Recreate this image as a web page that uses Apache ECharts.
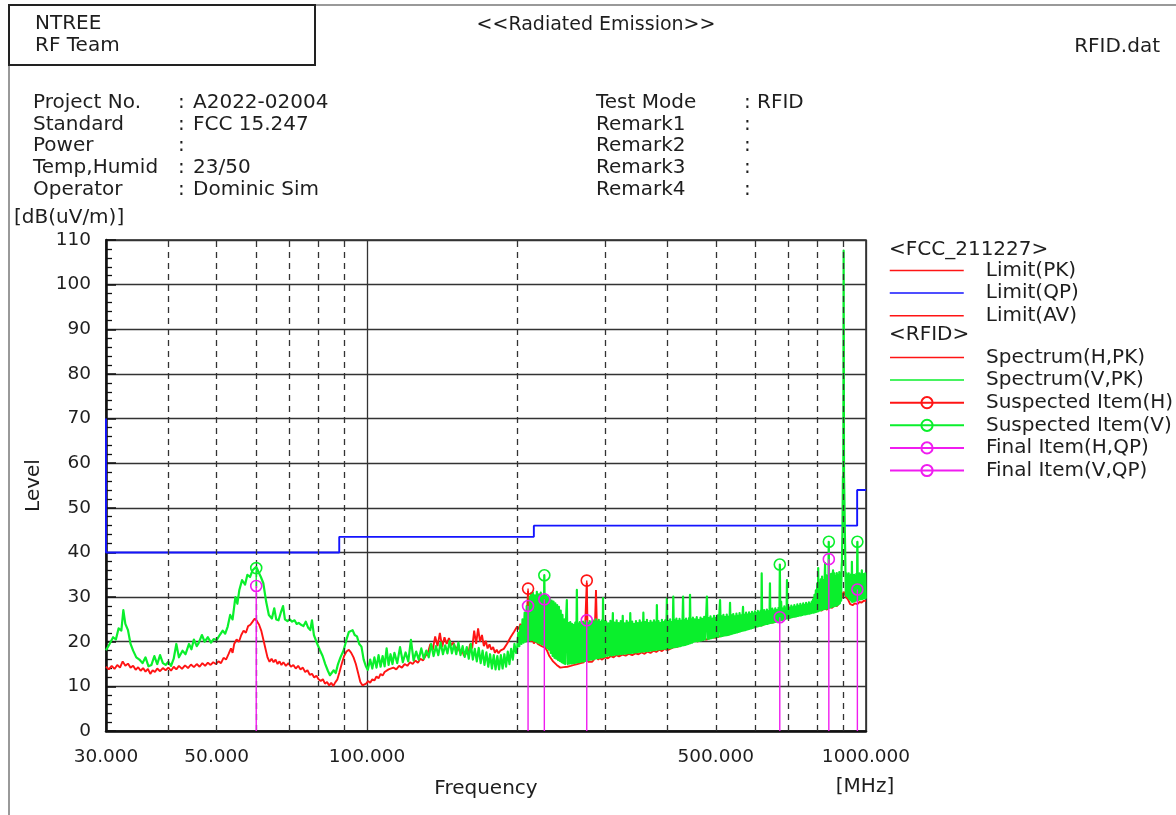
<!DOCTYPE html>
<html>
<head>
<meta charset="utf-8">
<script src="https://cdn.jsdelivr.net/npm/echarts@6/dist/echarts.min.js"></script>
<style>
html, body { margin: 0; padding: 0; background: #fff; }
#chart { width: 1176px; height: 815px; }
</style>
</head>
<body>
<div id="chart"></div>
<script>
const FONT = 'DejaVu Sans';
const INK = '#1e1e1e';

// Report header fields
const headerLeft = [
  ['Project No.', 'A2022-02004'],
  ['Standard', 'FCC 15.247'],
  ['Power', ''],
  ['Temp,Humid', '23/50'],
  ['Operator', 'Dominic Sim']
];
const headerRight = [
  ['Test Mode', 'RFID'],
  ['Remark1', ''],
  ['Remark2', ''],
  ['Remark3', ''],
  ['Remark4', '']
];

// Axis setup (frequency in MHz, level in dB(uV/m))
const freqLabelTicks = [30, 50, 100, 500, 1000];
const freqDashedGrid = [40, 50, 60, 70, 80, 90, 200, 300, 400, 500, 600, 700, 800, 900];

// FCC quasi-peak limit, stepped
const limitQP = [[30, 70], [30, 40], [88, 40], [88, 43.5], [216, 43.5], [216, 46], [960, 46], [960, 54], [1000, 54]];

// Horizontal polarisation, peak sweep
const spectrumH = [
  [30,14.4],[30.4,13.8],[30.8,14.6],[31.2,13.9],[31.6,14.8],[32,14.2],[32.4,15.6],[32.8,14.6],[33.2,15.1],[33.6,14.2],
  [34,14.6],[34.4,13.7],[34.8,14.3],[35.2,13.5],[35.6,14.1],[36,13.3],[36.4,13.9],[36.8,12.8],[37.2,13.6],[37.6,13.2],
  [38,14],[38.5,13.4],[39,14.1],[39.5,13.6],[40,14.2],[40.5,13.5],[41,14.4],[41.5,13.8],[42,14.6],[42.6,13.9],
  [43.2,14.7],[43.8,14.1],[44.4,14.9],[45,14.3],[45.6,15],[46.2,14.4],[46.8,15.2],[47.4,14.6],[48,15.3],[48.6,14.8],
  [49.2,15.4],[49.8,15],[50.4,15.6],[51,15.2],[51.6,16.4],[52.2,16],[52.8,17.2],[53.4,18.5],[53.8,17.5],[54.2,19.5],
  [54.8,20.5],[55.4,20],[56,21.5],[56.6,22.5],[57.2,22],[57.8,23.5],[58.4,23.8],[59,24.5],[59.6,25.2],[60.2,24.6],
  [60.8,23.8],[61.4,22.5],[62,20.5],[62.6,18.5],[63.2,16.5],[63.8,15.5],[64.4,16.2],[65,15.4],[65.6,16],[66.2,15],
  [66.8,15.6],[67.4,14.8],[68,15.4],[68.8,14.6],[69.6,15.2],[70.4,14.4],[71.2,14.8],[72,14],[72.8,14.6],[73.6,13.8],
  [74.4,14.2],[75.2,13.2],[76,13.6],[76.8,12.6],[77.6,12.8],[78.4,12],[79.2,12.4],[80,11.6],[80.8,11.2],[81.6,11.6],
  [82.4,10.6],[83.2,11],[84,10.2],[84.8,10.8],[85.6,10.1],[86.4,10.9],[87.2,11.5],[88,13],[89,15],[90,16.8],
  [91,17.8],[92,18.2],[93,17.5],[94,16.5],[95,15],[96,13],[97,11],[98,10.2],[98.8,9.9],[99.6,10.6],
  [100.5,11.2],[101.5,10.8],[102.5,11.6],[103.5,11.3],[104.5,12.2],[105.5,11.8],[106.5,12.8],[107.5,12.4],[108.5,13.2],[109.5,12.8],
  [110.5,13.8],[111.5,13.4],[113,14.2],[114.5,13.8],[116,14.6],[117.5,14.2],[119,15],[120.5,14.6],[122,15.4],[123.5,15],
  [125,15.8],[126.5,15.3],[128,16.2],[129.5,15.8],[131,16.8],[132.5,17.6],[134,19.5],[135.5,18.2],[137,21.2],[138.5,19],
  [140,22],[141.5,18.8],[143,21],[144.5,19.5],[146,20.8],[147.5,19.2],[149,19.8],[150.5,18.5],[152,18.8],[153.5,17.8],
  [155,18.2],[156.5,16.8],[158,17.5],[159.5,17.2],[161,19.5],[162.5,18.5],[164,22.5],[165.5,19.5],[167,23],[168.5,20],
  [170,21.5],[171.5,19],[173,20.2],[174.5,18.5],[176,19.4],[177.5,18.2],[179,18.8],[180.5,17.5],[182,18.2],[183.5,17.4],
  [185,18],[186.5,17.6],[188,18.4],[189.5,18],[191,19.6],[192.5,19.2],[194,21],[195.5,20.6],[197,22.2],[198.5,21.8],
  [200,23.4],[201.5,22.8],[203,24],[204.5,23.2],[206,24.5],[207.5,23.8],[209,25.5],[210.3,31.4],[211.5,21],[213,20],
  [214.5,20.6],[216,19.6],[218,20.2],[220,19.5],[222,19.8],[224,19],[226,19.3],[228,18.6],[230,17.8],[232,16.8],
  [234,16.2],[236,15.6],[238,15.2],[240,14.8],[242,14.5],[244,14.2],[246,14],[248,14.3],[250,14.1],[252,14.4],
  [254,14.2],[256,14.6],[258,14.4],[260,14.8],[262,14.6],[264,15],[266,14.8],[268,15.2],[270,15],[272,15.4],
  [274,15.2],[275.7,33.2],[277.5,15.5],[280,15.8],[282.5,15.5],[285,16],[287.7,31.6],[290,16],[293,16.3],[296,16],
  [300,16.5],[304,16.3],[308,16.8],[312,16.5],[316,17],[320,16.7],[325,17.1],[330,16.9],[335,17.3],[340,17],
  [345,17.4],[350,17.2],[355,17.6],[360,17.3],[365,17.8],[370,17.5],[375,18],[380,17.7],[385,18.2],[390,17.9],
  [395,18.4],[400,18.1],[410,18.7],[420,18.9],[430,19.4],[440,19.6],[450,20.2],[460,20.1],[470,20.6],[480,20.5],
  [490,21],[500,20.9],[515,21.4],[530,21.6],[545,22.2],[560,22.4],[575,22.9],[590,23.1],[605,23.6],[620,23.7],
  [635,24.2],[650,24.3],[665,24.8],[680,24.9],[695,25.4],[710,25.5],[725,25.9],[740,26],[755,26.4],[770,26.5],
  [785,26.8],[790,29.5],[795,27],[805,27.2],[815,27],[825,27.5],[835,27.2],[845,27.8],[855,27.6],[865,28.2],
  [875,28],[885,28.8],[892,29.6],[897,30.5],[902,31.2],[907,30.8],[912,30],[920,29.5],[930,28.4],[940,28.2],
  [950,28.6],[960,28.4],[970,28.9],[980,28.8],[990,29.2],[1000,29.1]
];

// Vertical polarisation, peak sweep
const spectrumV = [
  [30,18.1],[30.5,19.5],[31,21],[31.4,20.5],[31.8,23],[32.2,22.5],[32.5,27.1],[32.8,24],[33.2,22.6],[33.6,19.5],
  [34,18],[34.5,16.5],[35,16],[35.5,15.2],[36,16.5],[36.5,14.5],[37,14.8],[37.5,16.8],[38,15],[38.5,17],
  [39,15.2],[39.5,14.8],[40,15.5],[40.5,14.6],[41,16.2],[41.5,19.5],[42,16.5],[42.7,18],[43.3,17.2],[44,19.5],
  [44.5,18.3],[45,20.5],[45.6,19],[46,19.7],[46.7,21.5],[47.3,20],[48,21],[48.7,19.8],[49.3,20.6],[50,20.4],
  [50.7,21.5],[51.4,22.5],[52,21.8],[52.6,23.4],[53.2,26],[53.8,25],[54.5,30],[55,28.5],[55.5,31.6],[56.2,33.8],
  [57,32.8],[57.6,35],[58.3,34.5],[59,36],[60,36.8],[60.7,35.5],[61.3,34.5],[62,33.1],[62.8,29],[63.6,26],
  [64.5,25.2],[65.2,27.5],[65.8,25],[66.5,24.8],[67.2,26.5],[67.9,28],[68.5,25],[69.3,24.6],[70,25],[70.8,24.5],
  [71.6,24.8],[72.3,24],[73,24.2],[73.8,23.8],[74.6,23.5],[75.4,24.5],[76.2,23.2],[77,22.6],[77.6,24.8],[78.3,21.5],
  [79.2,20],[80.5,18.1],[81.5,16.8],[82.5,15],[83.5,13.5],[84.3,12.5],[85,12.2],[85.8,13.6],[86.6,13],[87.5,15],
  [88.5,16.5],[89.8,18.1],[91,20.5],[92,22.2],[92.8,21.8],[93.6,22.6],[94.5,21.5],[95.5,21.2],[96.5,19.5],[97.5,18.9],
  [98.5,16],[99.5,14.5],[100.4,13.7],[101.5,16],[102.5,14],[103.5,16.5],[104.5,14.2],[105.5,17],[106.5,14.4],[107.5,16.8],
  [108.5,14.5],[109.5,18.5],[110.5,14.8],[111.5,17.2],[112.5,15],[113.5,17.5],[115,15.2],[116.5,18.8],[118,15.4],[119.5,17.6],
  [121,15.6],[122.5,20.4],[124,15.8],[125.5,17.8],[127,16],[128.5,18.5],[130,16.2],[131.5,18],[133,16.5],[134.5,19.5],
  [136,16.8],[137.5,19],[139,17],[140.5,19.8],[142,17.2],[143.5,19.2],[145,17.4],[146.5,20.2],[148,17.4],[149.5,19.4],
  [151,17.2],[152.5,19.8],[154,17],[155.5,19],[157,16.6],[158.5,18.8],[160,16.2],[161.5,19.5],[163,16],[164.5,18.4],
  [166,15.6],[167.5,18.6],[169,15.2],[170.5,18],[172,14.8],[173.5,17.6],[175,14.4],[176.5,17.2],[178,14],[179.5,17],
  [181,13.8],[182.5,16.8],[184,13.8],[185.5,17],[187,14],[188.5,17.2],[190,14.4],[191.5,17.8],[193,15],[194.5,18.4],
  [196,16],[197.5,19.5],[199,17.5],
  [200,18.5],[201,22],[202,19],[203,23.5],[204,19.5],[205,25],[206,19.8],[207,26.5],[208,20],[209,28],
  [210,20.2],[211,30],[212,20.3],[213,30.8],[214,20.4],[215,31],[216,20.2],[217,30.4],[218,20],[219,31.2],
  [220,19.8],[221,30.6],[222,19.6],[223,31],[224,19.4],[225,30.2],[226,19.2],[226.7,34.9],[227.5,19],[228.5,30.4],
  [229.5,18.6],[230.5,30],[231.5,18.2],[232.5,29.6],[233.5,17.5],[234.5,29.2],[235.5,16.8],[236.5,29],[237.5,16.4],[238.5,28.6],
  [239.5,16.2],[240.5,28.2],[241.5,15.9],[242.5,27.8],[243.5,15.7],[244.5,27],[245.5,15.4],[246.5,26],[247.5,15.2],[248.5,25],
  [249.5,15],[250.5,24.6],[251.5,29.3],[252.5,15],[253.5,24.2],[254.5,15.1],[255.5,24.4],[256.5,15.1],[257.5,24],[258.5,15.2],
  [259.5,23.8],[260.5,15.2],[261.5,24.3],[262.5,15.3],[263.4,31.6],[264.3,15.4],[265.2,24],[266.1,15.4],[267,24.4],[268,15.5],
  [269,23.9],[270,15.6],[271,24.5],[272,15.6],[273,24.1],[274,15.7],[275,24.6],[276.5,15.8],[277.5,24.2],[278.5,15.9],
  [279.5,24.6],[280.5,16],[281.5,24.3],[282.5,16],[283.5,24.8],[284.5,16.1],[285.5,24.4],[286.5,16.2],[287.5,25],[288.5,16.3],
  [289.5,24.5],[290.5,16.3],[291.5,24.9],[292.5,16.4],[293.5,24.4],[294.5,16.5],[295.5,24.8],[296.5,16.5],[297.2,29.8],[298,16.6],
  [299,24.6],[300,16.7],
  [301.5,24.5],[303,16.8],[304.5,24.1],[306,16.9],[307.5,24.7],[309,16.9],[311,26.4],[312,17],[313.5,24.3],[315,17.1],
  [316.5,24.8],[318,17.1],[319.5,24.2],[321,17.2],[322.5,24.6],[324,17.2],[325.5,25.8],[327,17.3],[328.5,24.1],[330,17.3],
  [331.5,24.7],[333,17.4],[334.5,24.3],[336,17.4],[337,26.4],[338.5,17.5],[340,24.5],[341.5,17.5],[343,24],[344.5,17.6],
  [346,24.6],[347.5,17.6],[349,24.2],[350.5,17.7],[352,24.8],[353.5,17.7],[355,24.3],[356.5,17.8],[358,26.5],[359.5,17.8],
  [361,24.4],[362.5,17.9],[364,24.9],[365.5,17.9],[367,24.2],[368.5,18],[370,24.7],[371.5,18],[373,24.3],[374.5,18.1],
  [376,24.8],[377.5,18.1],[379,24.4],[380,18.2],[381,28.2],[382.5,18.2],[384,24.6],[385.5,18.3],[387,24.2],[388.5,18.3],
  [390,24.9],[391.5,18.4],[393,24.4],[394.5,18.4],[396,24.8],[397.5,18.5],[399,29.7],[400.5,18.5],[402,24.6],[403.5,18.6],
  [405,25],[406.5,18.6],[408,24.4],[409.5,18.7],[411,30.1],[412.5,18.8],[414,24.8],[415.5,18.8],[417,25.2],[418.5,18.9],
  [420,24.6],[421.5,19],[423,25.1],[424.5,19],[426,24.7],[427.5,19.1],[429,25.3],[430,30.1],[431.5,19.2],[433,24.8],
  [434.5,19.3],[436,25.2],[437.5,19.4],[439,24.7],[440.5,19.5],[442,25.3],[443,19.6],[444,30.5],[445.5,19.7],[447,25],
  [448.5,19.8],[450,25.4],[452,20],[454,25],[456,20.1],[458,25.5],[460,20.1],[462,24.9],[464,20.2],[466,25.4],
  [468,20.3],[470,25.1],[472,20.4],[474,25.6],[476,20.5],[478,25],[480,30.1],[482,20.6],[484,25.3],[486,20.7],
  [488,25.7],[490,20.8],[492,25.2],[494,20.9],[496,25.8],[498,21],[500,25.3],[502,21],[504,25.9],[506,21.1],
  [508,25.4],[510,29.3],[512,21.2],[514,25.7],[516,21.3],[518,26],[520,21.4],[522,25.5],[524,21.4],[526,26.1],
  [528,21.5],[530,25.6],[532,21.6],[534,28.7],[536,21.7],[538,25.9],[540,21.8],[542,26.2],[544,21.9],[546,25.7],
  [548,22],[550,26.3],[552,22.1],[554,25.8],[556,22.2],[558,26.4],[560,22.3],[562,25.9],[564,22.4],[566,26.3],
  [567,27.8],[569,22.5],[571,26],[573,22.6],[575,26.5],[577,22.7],[579,26.1],[581,22.8],[583,26.6],[585,22.9],
  [587,26.2],[589,23],[591,26.7],[593,23.1],[595,26.3],[597,23.2],[599,26.8],[601,23.3],[603,26.4],[605,23.4],
  [607,26.9],[609,23.5],[611,26.5],[613,23.6],[615,27],[617,23.6],[618,35.3],[619.5,23.7],[621,26.6],[623,23.8],
  [625,27.1],[627,23.9],[629,26.7],[631,24],[633,27.2],[635,24],[637,26.8],[639,24.1],[641,27.3],[642,33.1],
  [643.5,24.2],[645,26.9],[647,24.3],[649,27.4],[651,24.3],[653,27],[655.5,24.4],[658,27.5],[660.5,24.5],[663,27.1],
  [665.5,24.6],[668,27.6],[670.5,24.7],[672,37.3],[673.5,24.8],[676,29],[678.5,24.9],[681,27.4],[683.5,25],[686,27.9],
  [688.5,25.1],[691,27.5],[693,25.2],[694.5,33.8],[696,25.2],[698.5,28],[701,25.3],[703.5,27.6],[706,25.4],[708.5,28.1],
  [711,25.5],[713.5,27.7],[716,25.6],[718.5,28.2],[721,25.6],[723.5,27.8],[726,25.7],[728.5,28.4],[731,25.8],[733.5,28],
  [736,25.9],[738.5,28.5],[741,25.9],[743.5,28.1],[746,26],[748.5,28.6],[751,26.1],[753.5,28.2],[756,26.1],[758.5,28.7],
  [761,26.2],[763.5,28.3],[766,26.3],[768.5,28.8],[771,26.3],[773.5,28.5],[776,26.4],[778.5,29],[781,26.5],[783.5,29.5],
  [786,26.5],[788.5,30.5],[791,26.6],[793.5,31.5],[796,26.7],[798.5,33],[801,26.8],[802,36.5],[804,26.9],[806.5,33.2],
  [809,27],[811.5,34],[814,27.1],[816.5,34.6],[819,27.2],[821.5,33.8],[824,27.3],[826.5,34.4],[828,37.6],[830,27.4],
  [832.5,34.9],[835,27.4],[837.5,34.2],[840,27.5],[842,42.4],[844,27.6],[846.5,34.8],[849,27.7],[851.5,35.2],[854,27.8],
  [856.5,34.6],[859,36],[861.5,27.9],[864,35.3],[866.5,28],[869,34.7],[871.5,28.1],[874,35.4],[876.5,28.2],[879,34.9],
  [881.5,28.4],[884,35.6],[886.5,28.6],[889,35.2],[891.5,29.2],[893.5,36.5],[895,38],[897,45],[899,57],[900.5,52],
  [902,107.6],[903.5,57.3],[905,52.5],[907,45],[909,38],[911,30.4],[913.5,35.4],[916,30.2],[918.5,34.8],[921,29.9],
  [923.5,35.3],[926,29.6],[928.5,34.7],[931,29.3],[933.5,35.1],[936,29],[937,37.9],[939,28.9],[941.5,34.5],[944,29],
  [946.5,35],[949,29.1],[951.5,34.6],[954,29.2],[956.5,35.2],[959,29.3],[961,42.4],[963,29.3],[965.5,34.8],[968,29.4],
  [970.5,35.3],[973,29.5],[975.5,34.9],[978,29.5],[981,36],[983.5,29.6],[986,35.2],[988.5,29.7],[991,34.8],[993.5,29.7],
  [996,35.3],[998.5,29.8],[1000,30]
];

// Suspected peaks and final quasi-peak readings (same items, same order)
const suspectedHFreq = [210.3, 275.7];
const suspectedHLevel = [31.9, 33.7];
const suspectedVFreq = [60.0, 226.7, 671.8, 842.4, 961.0];
const suspectedVLevel = [36.5, 34.9, 37.3, 42.4, 42.4];
const finalHFreq = [210.3, 275.7];
const finalHLevel = [28.0, 24.8];
const finalVFreq = [60.0, 226.7, 671.8, 842.4, 961.0];
const finalVLevel = [32.5, 29.5, 25.5, 38.5, 31.7];

const RED = '#ff1414';
const GREEN = '#0aef2c';
const BLUE = '#1414ff';
const MAGENTA = '#f01cf0';

// One stem per item: a line from a base level up to the reading, with a hollow ring on top
function stems(name, freqs, levels, bases, color, z) {
  return freqs.map((f, i) => ({
    type: 'line',
    name: name,
    z: z,
    symbol: 'circle',
    symbolSize: 11,
    lineStyle: { color: color, width: 1.4 },
    itemStyle: { color: 'rgba(255,255,255,0)', borderColor: color, borderWidth: 1.6 },
    emphasis: { disabled: true },
    data: [{ value: [f, bases[i]], symbol: 'none' }, [f, levels[i]]]
  }));
}

const textBase = { fontFamily: FONT, fontSize: 20, fill: INK };
function txt(x, y, text, extra) {
  return {
    type: 'text', x: x, y: y, silent: true,
    style: Object.assign({ text: text, verticalAlign: 'middle', textVerticalAlign: 'middle' }, textBase, extra || {})
  };
}

const graphics = [
  { type: 'line', silent: true, shape: { x1: 9, y1: 5, x2: 9, y2: 815 }, style: { stroke: '#777', lineWidth: 1.5 } },
  { type: 'line', silent: true, shape: { x1: 9, y1: 5, x2: 1176, y2: 5 }, style: { stroke: '#777', lineWidth: 1.5 } },
  { type: 'rect', silent: true, shape: { x: 9, y: 5, width: 306, height: 60 }, style: { fill: 'none', stroke: '#222', lineWidth: 2 } },
  txt(35, 24, 'NTREE'),
  txt(35, 46, 'RF Team'),
  txt(596, 25, '<<Radiated Emission>>', { fontSize: 19, align: 'center', textAlign: 'center' }),
  txt(1160, 47, 'RFID.dat', { align: 'right', textAlign: 'right' }),
  txt(14, 218, '[dB(uV/m)]'),
  txt(865, 787, '[MHz]', { align: 'center', textAlign: 'center' }),
  txt(889, 250, '<FCC_211227>'),
  txt(889, 335, '<RFID>')
];
const rowY = [103, 125, 146, 168, 190];
headerLeft.forEach((r, i) => {
  graphics.push(txt(33, rowY[i], r[0]));
  graphics.push(txt(178, rowY[i], ':'));
  if (r[1]) graphics.push(txt(193, rowY[i], r[1]));
});
headerRight.forEach((r, i) => {
  graphics.push(txt(596, rowY[i], r[0]));
  graphics.push(txt(744, rowY[i], ':'));
  if (r[1]) graphics.push(txt(757, rowY[i], r[1]));
});

const legendCommon = {
  orient: 'vertical',
  left: 889,
  padding: 0,
  itemWidth: 74,
  itemHeight: 14,
  itemGap: 2.6,
  selectedMode: false,
  textStyle: { fontFamily: FONT, fontSize: 20, color: INK, lineHeight: 19, padding: [0, 0, 0, 17] }
};
// plain-line entries carry no ring in the key
const lineOnly = name => ({ name: name, itemStyle: { opacity: 0 }, lineStyle: { width: 1.5 } });

const chart = echarts.init(document.getElementById('chart'), null, { renderer: 'canvas' });
chart.setOption({
  animation: false,
  backgroundColor: '#fff',
  grid: { left: 106, top: 240, width: 760, height: 491, show: true, borderColor: '#222', borderWidth: 1.5, containLabel: false, outerBoundsMode: 'none' },
  legend: [
    Object.assign({}, legendCommon, { top: 260.5, data: [lineOnly('Limit(PK)'), lineOnly('Limit(QP)'), lineOnly('Limit(AV)')] }),
    Object.assign({}, legendCommon, { top: 347.5, data: [lineOnly('Spectrum(H,PK)'), lineOnly('Spectrum(V,PK)'), 'Suspected Item(H)', 'Suspected Item(V)', 'Final Item(H,QP)', 'Final Item(V,QP)'] })
  ],
  xAxis: {
    type: 'log', logBase: 10, min: 30, max: 1000,
    name: 'Frequency', nameLocation: 'middle', nameGap: 48,
    nameTextStyle: { fontFamily: FONT, fontSize: 20, color: INK },
    axisLine: { lineStyle: { color: '#111', width: 2.5 } },
    axisTick: { show: false },
    axisLabel: { show: false },
    minorTick: { show: false },
    splitLine: { show: true, lineStyle: { color: '#333', width: 1.3 } }
  },
  yAxis: {
    type: 'value', min: 0, max: 110, interval: 10,
    name: 'Level', nameLocation: 'middle', nameGap: 62, nameRotate: 90,
    nameTextStyle: { fontFamily: FONT, fontSize: 20, color: INK },
    axisLine: { show: true, lineStyle: { color: '#111', width: 2.5 } },
    axisTick: { show: true, inside: true, length: 10, lineStyle: { color: '#111', width: 1.5 } },
    minorTick: { show: true, splitNumber: 5, length: 6, lineStyle: { color: '#111', width: 1.3 } },
    axisLabel: { fontFamily: FONT, fontSize: 18.5, color: INK, margin: 15 },
    splitLine: { show: true, lineStyle: { color: '#333', width: 1.3 } }
  },
  graphic: graphics,
  series: [
    {
      // dashed frequency gridlines
      type: 'line', name: 'fgrid', data: [], z: 1, silent: true,
      markLine: {
        silent: true, symbol: 'none', animation: false,
        label: { show: false },
        lineStyle: { color: '#333', width: 1.3, type: [6, 5] },
        data: freqDashedGrid.map(f => ({ xAxis: f }))
      }
    },
    {
      // frequency tick labels along the bottom edge
      type: 'line', name: 'flabels', data: [], z: 1, silent: true,
      markLine: {
        silent: true, symbol: 'none', animation: false,
        lineStyle: { color: 'rgba(0,0,0,0)', width: 0 },
        label: {
          show: true, position: 'start', distance: 17,
          fontFamily: FONT, fontSize: 18.5, color: INK,
          formatter: p => Number(p.value).toFixed(3)
        },
        data: freqLabelTicks.map(f => ({ xAxis: f }))
      }
    },
    { type: 'line', name: 'Limit(PK)', data: [], symbol: 'none', lineStyle: { color: RED, width: 1.5 }, itemStyle: { color: RED } },
    { type: 'line', name: 'Limit(QP)', data: limitQP, z: 2, symbol: 'none', lineStyle: { color: BLUE, width: 1.9 }, itemStyle: { color: BLUE } },
    { type: 'line', name: 'Limit(AV)', data: [], symbol: 'none', lineStyle: { color: RED, width: 1.5 }, itemStyle: { color: RED } },
    { type: 'line', name: 'Spectrum(H,PK)', data: spectrumH, z: 3, symbol: 'none', lineStyle: { color: RED, width: 1.9 }, itemStyle: { color: RED } },
    { type: 'line', name: 'Spectrum(V,PK)', data: spectrumV, z: 4, symbol: 'none', lineStyle: { color: GREEN, width: 2.2, join: 'round' }, itemStyle: { color: GREEN } }
  ]
    // suspected stems rise from the final reading, the final stems from 0 dB
    .concat(stems('Suspected Item(H)', suspectedHFreq, suspectedHLevel, finalHLevel, RED, 5))
    .concat(stems('Suspected Item(V)', suspectedVFreq, suspectedVLevel, finalVLevel, GREEN, 5))
    .concat(stems('Final Item(H,QP)', finalHFreq, finalHLevel, finalHFreq.map(() => 0), MAGENTA, 6))
    .concat(stems('Final Item(V,QP)', finalVFreq, finalVLevel, finalVFreq.map(() => 0), MAGENTA, 6))
});
</script>
</body>
</html>
